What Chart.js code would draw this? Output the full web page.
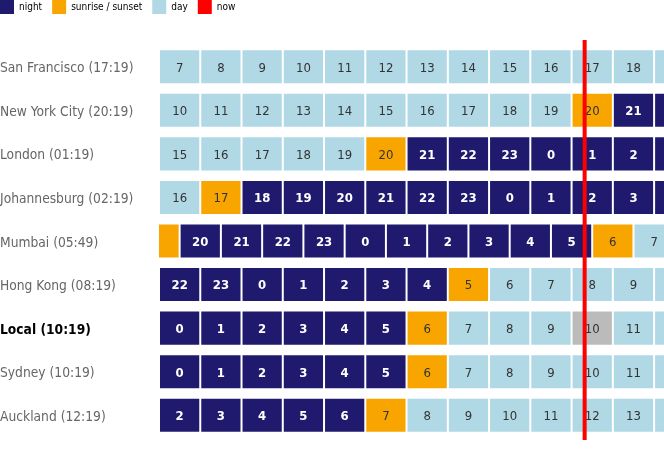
<!DOCTYPE html>
<html>
<head>
<meta charset="utf-8">
<script src="https://cdn.jsdelivr.net/npm/chart.js@4/dist/chart.umd.min.js"></script>
<style>
  html, body { margin: 0; padding: 0; background: #fff; overflow: hidden; }
  #wrap { position: absolute; left: 0; top: 0; width: 664px; height: 453px; }
</style>
</head>
<body>
<div id="wrap"><canvas id="c" width="664" height="453"></canvas></div>
<script>
// ---- data ----
const cities = [
  'San Francisco (17:19)', 'New York City (20:19)', 'London (01:19)',
  'Johannesburg (02:19)', 'Mumbai (05:49)', 'Hong Kong (08:19)',
  'Local (10:19)', 'Sydney (10:19)', 'Auckland (12:19)'
];
const highlightCity = 'Local (10:19)';

// hour shown in each cell, per row (left to right)
const hours = [
  [7, 8, 9, 10, 11, 12, 13, 14, 15, 16, 17, 18, 19],
  [10, 11, 12, 13, 14, 15, 16, 17, 18, 19, 20, 21, 22],
  [15, 16, 17, 18, 19, 20, 21, 22, 23, 0, 1, 2, 3],
  [16, 17, 18, 19, 20, 21, 22, 23, 0, 1, 2, 3, 4],
  [19, 20, 21, 22, 23, 0, 1, 2, 3, 4, 5, 6, 7, 8],
  [22, 23, 0, 1, 2, 3, 4, 5, 6, 7, 8, 9, 10],
  [0, 1, 2, 3, 4, 5, 6, 7, 8, 9, 10, 11, 12],
  [0, 1, 2, 3, 4, 5, 6, 7, 8, 9, 10, 11, 12],
  [2, 3, 4, 5, 6, 7, 8, 9, 10, 11, 12, 13, 14]
];
// n = night, s = sunrise / sunset, d = day, c = current hour
const kinds = [
  'ddddddddddddd',
  'ddddddddddsnn',
  'dddddsnnnnnnn',
  'dsnnnnnnnnnnn',
  'snnnnnnnnnnsdd',
  'nnnnnnnsddddd',
  'nnnnnnsdddcdd',
  'nnnnnnsdddddd',
  'nnnnnsddddddd'
];
// where each row's first cell starts, in hours on the shared axis
const rowOffsets = [0, 0, 0, 0, -0.5, 0, 0, 0, 0];
// "now" on the shared axis (hours after the first San Francisco cell, 07:00 -> 17:19)
const nowValue = 10 + 19 / 60;
const axisMax = 12.24;

const legendNames = ['night', 'sunrise / sunset', 'day', 'now'];

// ---- styles ----
const colors = { n: '#1f1a6d', s: '#f8a500', d: '#b0d8e5', c: '#bbbbbb', now: '#ff0000' };
const FONT = '"DejaVu Sans Condensed", "DejaVu Sans", "Liberation Sans", sans-serif';

const nCols = Math.max(...hours.map(h => h.length));
const datasets = [];
for (let k = 0; k < nCols; k++) {
  datasets.push({
    data: cities.map((_, r) => hours[r][k] === undefined ? null : [rowOffsets[r] + k, rowOffsets[r] + k + 1]),
    backgroundColor: cities.map((_, r) => colors[kinds[r][k]] || 'transparent'),
    borderColor: 'rgba(255,255,255,0.55)',
    borderWidth: 1,
    borderSkipped: false,
    grouped: false,
    barPercentage: 1,
    categoryPercentage: 0.805
  });
}

const cellText = {
  id: 'cellText',
  afterDatasetsDraw(chart) {
    const { ctx, chartArea } = chart;
    ctx.save();
    ctx.beginPath();
    ctx.rect(chartArea.left, chartArea.top, chartArea.right - chartArea.left, chartArea.bottom - chartArea.top);
    ctx.clip();
    ctx.textAlign = 'center';
    ctx.textBaseline = 'middle';
    chart.data.datasets.forEach((ds, k) => {
      const meta = chart.getDatasetMeta(k);
      meta.data.forEach((bar, r) => {
        const label = hours[r][k];
        if (label === undefined) return;
        // cells that start before the visible axis range carry no label
        if (rowOffsets[r] + k < chart.scales.x.min) return;
        const cx = (bar.x + bar.base) / 2;
        const kind = kinds[r][k];
        ctx.fillStyle = kind === 'n' ? '#ffffff' : '#333333';
        ctx.font = (kind === 'n' ? 'bold ' : '') + '13px ' + FONT;
        ctx.fillText(String(label), cx, bar.y + 1.5);
      });
    });
    ctx.restore();
  }
};

const nowLine = {
  id: 'nowLine',
  afterDatasetsDraw(chart) {
    const { ctx, chartArea, scales } = chart;
    const x = scales.x.getPixelForValue(nowValue);
    ctx.save();
    ctx.strokeStyle = colors.now;
    ctx.lineWidth = 4;
    ctx.beginPath();
    ctx.moveTo(x, chartArea.top - 5);
    ctx.lineTo(x, chartArea.bottom + 3);
    ctx.stroke();
    ctx.restore();
  }
};

const legendShift = {
  id: 'legendShift',
  afterLayout(chart) {
    if (chart.legend) {
      chart.legend.left = -10;
      chart.legend.top = -10;
    }
  }
};

new Chart(document.getElementById('c'), {
  type: 'bar',
  data: { labels: cities, datasets },
  options: {
    responsive: false,
    animation: false,
    indexAxis: 'y',
    layout: { padding: { top: 11, bottom: 16, left: 0, right: 0 } },
    plugins: {
      tooltip: { enabled: false },
      legend: {
        position: 'top',
        align: 'start',
        onClick: null,
        labels: {
          boxWidth: 14,
          boxHeight: 14,
          padding: 10,
          color: '#666',
          font: { family: FONT, size: 10 },
          generateLabels: () => legendNames.map((name, i) => ({
            text: name,
            fillStyle: [colors.n, colors.s, colors.d, colors.now][i],
            strokeStyle: 'transparent',
            lineWidth: 0,
            hidden: false,
            datasetIndex: i
          }))
        }
      }
    },
    scales: {
      x: {
        type: 'linear',
        min: 0,
        max: axisMax,
        display: false
      },
      y: {
        type: 'category',
        grid: { display: false },
        border: { display: false },
        afterFit: (s) => { s.width = 159; },
        ticks: {
          crossAlign: 'far',
          padding: 0,
          labelOffset: 2,
          color: (c) => cities[c.index] === highlightCity ? '#000' : '#666',
          font: (c) => ({ family: FONT, size: 13.7, weight: cities[c.index] === highlightCity ? 'bold' : 'normal' })
        }
      }
    }
  },
  plugins: [cellText, nowLine, legendShift]
});
</script>
</body>
</html>
